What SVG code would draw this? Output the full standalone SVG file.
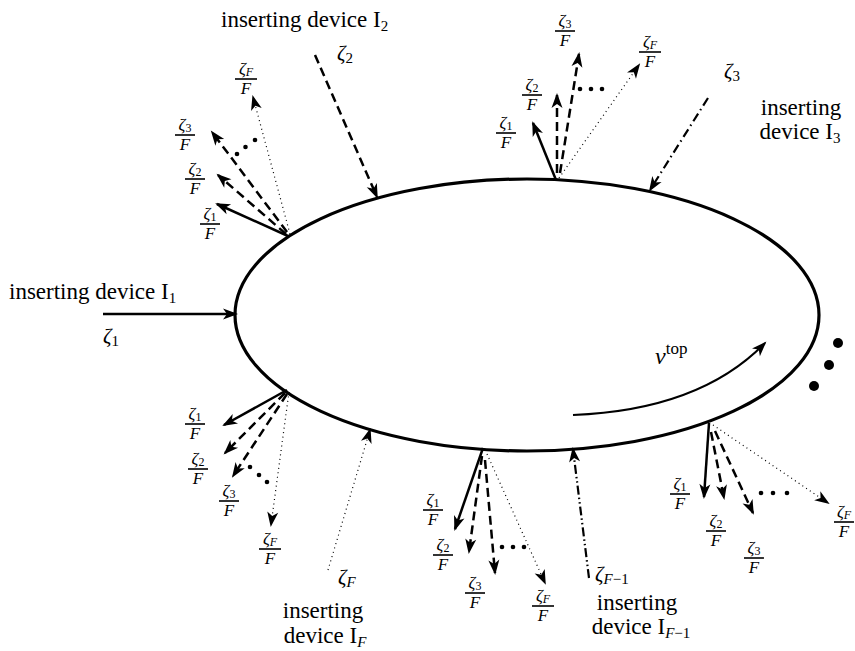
<svg xmlns="http://www.w3.org/2000/svg" width="855" height="651" viewBox="0 0 855 651">
<defs>
<marker id="ah" markerUnits="userSpaceOnUse" markerWidth="16" markerHeight="12" refX="13" refY="6" orient="auto" overflow="visible">
<path d="M0,0.5 L15,6 L0,11.5 L4,6 Z" fill="#000" stroke="none"/>
</marker>
<style>
text{font-family:"Liberation Serif","Times New Roman",serif;fill:#000}
.lbl{font-size:23px}
.mid{text-anchor:middle}
.z{font-size:21px;font-style:italic}
.zs{font-size:15px;font-style:normal}
.zsi{font-size:15px;font-style:italic}
.fr text{font-size:17px;text-anchor:middle}
.fr .n{font-style:italic}
.fr .s{font-size:12px;font-style:normal}
.fr .si{font-size:12px;font-style:italic}
.fr .d{font-style:italic}
.fr line{stroke:#000;stroke-width:1.6}
.c{fill:none;stroke:#000;marker-end:url(#ah)}
.solid{stroke-width:2.5}
.dash{stroke-width:2.5;stroke-dasharray:9 5}
.dot{stroke-width:1.2;stroke-dasharray:1 3.5}
.dd{stroke-width:2.2;stroke-dasharray:9 4 1.5 4}
.ddd{stroke-width:2.2;stroke-dasharray:9 3 1.5 3 1.5 3}
</style>
</defs>
<rect width="855" height="651" fill="#fff"/>

<g id="ring">
<ellipse cx="527" cy="315" rx="292" ry="136" fill="none" stroke="#000" stroke-width="3.2"/>
</g>

<g id="connectors">
<path class="c solid" d="M103,314 L236,314"/>
<path class="c dash" d="M315,55 L377,197"/>
<path class="c dd" d="M708,98 L650,190"/>
<path class="c dot" d="M328,570 L370,430"/>
<path class="c ddd" d="M589,578 L573,449"/>
<path class="c" stroke-width="2" d="M573,415 Q700,410 765,343"/>

<path class="c solid" d="M288,236 L217,204"/>
<path class="c dash" d="M286,234 L218,175"/>
<path class="c dash" d="M287,232 L212,132"/>
<path class="c dot" d="M290,234 L253,97"/>

<path class="c solid" d="M556,180 L533,123"/>
<path class="c dash" d="M557,173 L557,95"/>
<path class="c dash" d="M560,173 L579,54"/>
<path class="c dot" d="M559,178 L639,65"/>

<path class="c solid" d="M287,390 L224,425"/>
<path class="c dash" d="M285,393 L225,453"/>
<path class="c dash" d="M287,394 L233,476"/>
<path class="c dot" d="M289,392 L271,525"/>

<path class="c solid" d="M483,448 L455,529"/>
<path class="c dash" d="M482,456 L469,552"/>
<path class="c dash" d="M485,460 L495,573"/>
<path class="c dot" d="M487,454 L545,583"/>

<path class="c solid" d="M709,423 L704,497"/>
<path class="c dash" d="M711,432 L724,498"/>
<path class="c dash" d="M715,431 L753,513"/>
<path class="c dot" d="M713,425 L828,503"/>
</g>

<g id="ellipsis-dots" fill="#000">
<circle cx="237" cy="154" r="2.3"/><circle cx="245.5" cy="147" r="2.3"/><circle cx="255" cy="140" r="2.3"/>
<circle cx="580" cy="89" r="2.3"/><circle cx="591" cy="89" r="2.3"/><circle cx="602" cy="89" r="2.3"/>
<circle cx="250" cy="467" r="2.3"/><circle cx="259" cy="475" r="2.3"/><circle cx="267" cy="482" r="2.3"/>
<circle cx="502" cy="547" r="2.3"/><circle cx="513" cy="547" r="2.3"/><circle cx="524" cy="547" r="2.3"/>
<circle cx="761" cy="493" r="2.3"/><circle cx="773" cy="493" r="2.3"/><circle cx="787" cy="493" r="2.3"/>
<circle cx="838" cy="343" r="5"/><circle cx="829" cy="365" r="5"/><circle cx="814" cy="386" r="5"/>
</g>

<g id="dev1">
<text class="lbl" x="9" y="299">inserting device I<tspan class="zs" dy="4">1</tspan></text>
<text class="z" x="103" y="343">ζ<tspan class="zs" dy="3">1</tspan></text>
</g>
<g id="dev2">
<text class="lbl" x="221" y="27">inserting device I<tspan class="zs" dy="4">2</tspan></text>
<text class="z" x="337" y="60">ζ<tspan class="zs" dy="3">2</tspan></text>
</g>
<g id="dev3">
<text class="lbl mid" x="801" y="115">inserting</text>
<text class="lbl mid" x="800" y="139">device I<tspan class="zs" dy="4">3</tspan></text>
<text class="z" x="724" y="78">ζ<tspan class="zs" dy="3">3</tspan></text>
</g>
<g id="devF">
<text class="lbl mid" x="323" y="618">inserting</text>
<text class="lbl mid" x="325" y="643">device I<tspan class="zsi" dy="4">F</tspan></text>
<text class="z" x="338" y="584">ζ<tspan class="zsi" dy="3">F</tspan></text>
</g>
<g id="devF1">
<text class="lbl mid" x="637" y="610">inserting</text>
<text class="lbl mid" x="641" y="634">device I<tspan class="zsi" dy="4">F</tspan><tspan class="zs">−1</tspan></text>
<text class="z" x="595" y="581">ζ<tspan class="zsi" dy="3">F</tspan><tspan class="zs">−1</tspan></text>
</g>
<g id="vtop">
<text class="z" x="655" y="364" style="font-size:24px">ν<tspan class="zs" dy="-10" style="font-size:17px">top</tspan></text>
</g>

<g id="frac-tl" class="fr">
<g transform="translate(210,224)"><text class="n" y="-5">ζ<tspan class="s" dy="2">1</tspan></text><line x1="-10" x2="10"/><text class="d" y="15">F</text></g>
<g transform="translate(195,179)"><text class="n" y="-5">ζ<tspan class="s" dy="2">2</tspan></text><line x1="-10" x2="10"/><text class="d" y="15">F</text></g>
<g transform="translate(185,135)"><text class="n" y="-5">ζ<tspan class="s" dy="2">3</tspan></text><line x1="-10" x2="10"/><text class="d" y="15">F</text></g>
<g transform="translate(246,79)"><text class="n" y="-5">ζ<tspan class="si" dy="2">F</tspan></text><line x1="-11" x2="11"/><text class="d" y="15">F</text></g>
</g>
<g id="frac-t" class="fr">
<g transform="translate(506,133)"><text class="n" y="-5">ζ<tspan class="s" dy="2">1</tspan></text><line x1="-10" x2="10"/><text class="d" y="15">F</text></g>
<g transform="translate(532,95)"><text class="n" y="-5">ζ<tspan class="s" dy="2">2</tspan></text><line x1="-10" x2="10"/><text class="d" y="15">F</text></g>
<g transform="translate(565,31)"><text class="n" y="-5">ζ<tspan class="s" dy="2">3</tspan></text><line x1="-10" x2="10"/><text class="d" y="15">F</text></g>
<g transform="translate(650,52)"><text class="n" y="-5">ζ<tspan class="si" dy="2">F</tspan></text><line x1="-11" x2="11"/><text class="d" y="15">F</text></g>
</g>
<g id="frac-bl" class="fr">
<g transform="translate(195,424)"><text class="n" y="-5">ζ<tspan class="s" dy="2">1</tspan></text><line x1="-10" x2="10"/><text class="d" y="15">F</text></g>
<g transform="translate(198,469)"><text class="n" y="-5">ζ<tspan class="s" dy="2">2</tspan></text><line x1="-10" x2="10"/><text class="d" y="15">F</text></g>
<g transform="translate(229,501)"><text class="n" y="-5">ζ<tspan class="s" dy="2">3</tspan></text><line x1="-10" x2="10"/><text class="d" y="15">F</text></g>
<g transform="translate(270,549)"><text class="n" y="-5">ζ<tspan class="si" dy="2">F</tspan></text><line x1="-11" x2="11"/><text class="d" y="15">F</text></g>
</g>
<g id="frac-b" class="fr">
<g transform="translate(433,510)"><text class="n" y="-5">ζ<tspan class="s" dy="2">1</tspan></text><line x1="-10" x2="10"/><text class="d" y="15">F</text></g>
<g transform="translate(443,555)"><text class="n" y="-5">ζ<tspan class="s" dy="2">2</tspan></text><line x1="-10" x2="10"/><text class="d" y="15">F</text></g>
<g transform="translate(475,593)"><text class="n" y="-5">ζ<tspan class="s" dy="2">3</tspan></text><line x1="-10" x2="10"/><text class="d" y="15">F</text></g>
<g transform="translate(543,606)"><text class="n" y="-5">ζ<tspan class="si" dy="2">F</tspan></text><line x1="-11" x2="11"/><text class="d" y="15">F</text></g>
</g>
<g id="frac-br" class="fr">
<g transform="translate(680,494)"><text class="n" y="-5">ζ<tspan class="s" dy="2">1</tspan></text><line x1="-10" x2="10"/><text class="d" y="15">F</text></g>
<g transform="translate(716,531)"><text class="n" y="-5">ζ<tspan class="s" dy="2">2</tspan></text><line x1="-10" x2="10"/><text class="d" y="15">F</text></g>
<g transform="translate(754,558)"><text class="n" y="-5">ζ<tspan class="s" dy="2">3</tspan></text><line x1="-10" x2="10"/><text class="d" y="15">F</text></g>
<g transform="translate(844,522)"><text class="n" y="-5">ζ<tspan class="si" dy="2">F</tspan></text><line x1="-10" x2="10"/><text class="d" y="15">F</text></g>
</g>
</svg>
